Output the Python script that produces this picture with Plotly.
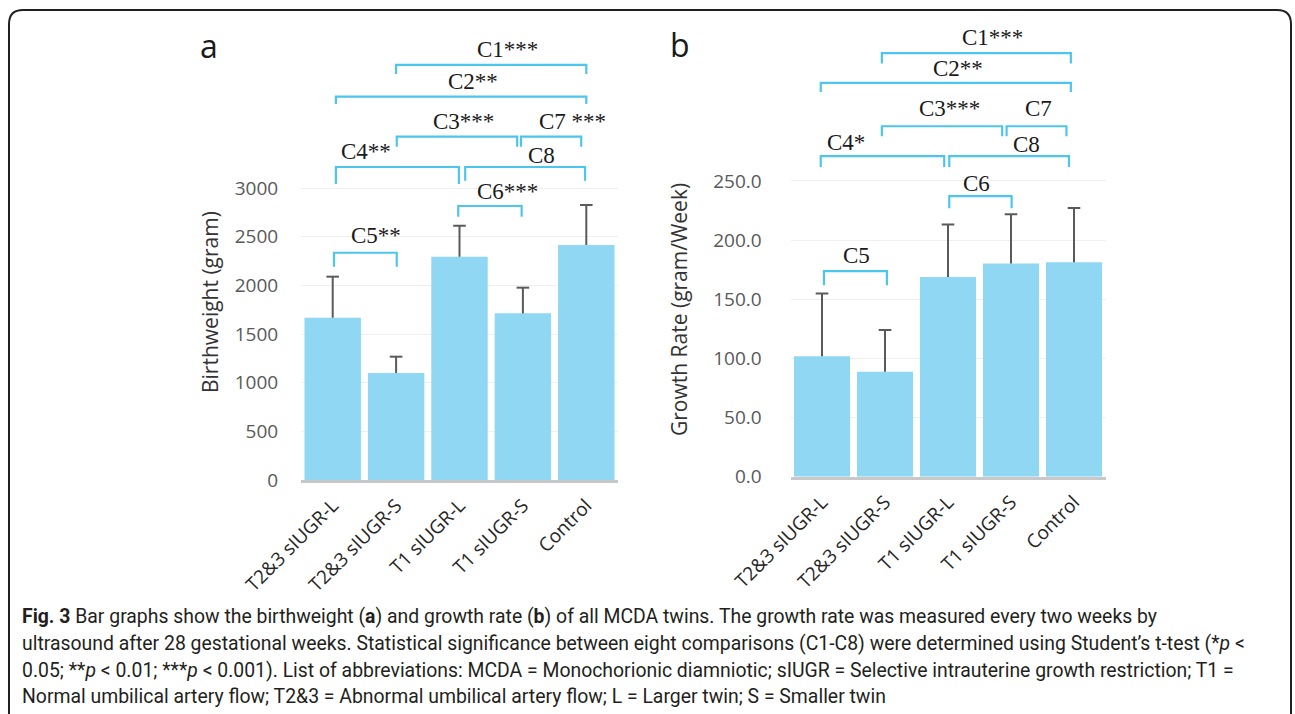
import plotly.graph_objects as go

W, H = 1295, 714

categories = ["T2&3 sIUGR-L", "T2&3 sIUGR-S", "T1 sIUGR-L", "T1 sIUGR-S", "Control"]
birthweight = [1667, 1099, 2294, 1712, 2414]
birthweight_sd = [422, 168, 319, 264, 411]
growth_rate = [101.9, 88.7, 168.9, 180.2, 181.3]
growth_rate_sd = [53.0, 35.2, 44.3, 41.7, 45.9]

bw_ticks = [0, 500, 1000, 1500, 2000, 2500, 3000]
gr_ticks = [0, 50, 100, 150, 200, 250]

# comparison labels: (label, x_left, x_right, top, leg_bottom, label_x, label_y)
comp_a = [
    ("C1***", 1.0, 4.0, 4264, 4171, 2.75, 4418),
    ("C2**", 0.05, 4.0, 3938, 3863, 2.21, 4092),
    ("C3***", 1.01, 2.91, 3527, 3424, 2.06, 3681),
    ("C7 ***", 2.97, 3.92, 3527, 3424, 3.79, 3681),
    ("C4**", 0.05, 1.99, 3216, 3041, 0.52, 3373),
    ("C8", 2.09, 3.98, 3216, 3075, 3.30, 3339),
    ("C6***", 1.98, 2.98, 2815, 2705, 2.75, 2962),
    ("C5**", 0.02, 1.01, 2335, 2191, 0.69, 2517),
]
comp_b = [
    ("C1***", 0.95, 3.95, 358.1, 349.2, 2.71, 371.6),
    ("C2**", -0.02, 3.95, 332.8, 325.2, 2.16, 344.9),
    ("C3***", 0.95, 2.86, 296.2, 287.8, 2.02, 311.1),
    ("C7", 2.93, 3.88, 296.2, 287.8, 3.43, 311.1),
    ("C4*", -0.02, 1.94, 270.9, 261.8, 0.38, 282.9),
    ("C8", 2.02, 3.92, 270.9, 261.8, 3.25, 281.0),
    ("C6", 2.02, 3.01, 237.1, 227.0, 2.45, 247.8),
    ("C5", 0.03, 1.03, 173.7, 161.8, 0.54, 187.2),
]

caption = [
    "<b>Fig. 3</b> Bar graphs show the birthweight (<b>a</b>) and growth rate (<b>b</b>) of all MCDA twins. The growth rate was measured every two weeks by",
    "ultrasound after 28 gestational weeks. Statistical significance between eight comparisons (C1-C8) were determined using Student\u2019s t-test (*<i>p</i> &lt;",
    "0.05; **<i>p</i> &lt; 0.01; ***<i>p</i> &lt; 0.001). List of abbreviations: MCDA = Monochorionic diamniotic; sIUGR = Selective intrauterine growth restriction; T1 =",
    "Normal umbilical artery flow; T2&amp;3 = Abnormal umbilical artery flow; L = Larger twin; S = Smaller twin",
]

BAR = "#8fd7f2"
BRACKET = "#4cc6ee"
ERR = "#5a5a5a"
TICKFONT = dict(family="Open Sans, sans-serif", size=19, color="#595959")
XTICKFONT = dict(family="Open Sans, sans-serif", size=19, color="#262626")
LABFONT = dict(family="Liberation Serif, serif", size=23, color="#1a1a1a")

def px(x):
    return x / W

def py(y):
    return 1 - y / H

xs = list(range(len(categories)))
ticktext = [c.replace("&", "&amp;") for c in categories]

fig = go.Figure()

def add_panel(vals, sds, xa, ya):
    fig.add_trace(go.Bar(x=xs, y=vals, marker=dict(color=BAR, line=dict(width=0)),
                         xaxis=xa, yaxis=ya, showlegend=False, hoverinfo="skip"))
    # upward-only error bars: stem + top cap
    ex, ey = [], []
    for i, v, s in zip(xs, vals, sds):
        ex += [i, i, None]
        ey += [v, v + s, None]
    fig.add_trace(go.Scatter(x=ex, y=ey, mode="lines", line=dict(color=ERR, width=2),
                             xaxis=xa, yaxis=ya, showlegend=False, hoverinfo="skip"))
    fig.add_trace(go.Scatter(x=xs, y=[v + s for v, s in zip(vals, sds)], mode="markers",
                             marker=dict(symbol="line-ew-open", size=9, color=ERR,
                                         line=dict(color=ERR, width=2)),
                             xaxis=xa, yaxis=ya, showlegend=False, hoverinfo="skip"))

add_panel(birthweight, birthweight_sd, "x", "y")
add_panel(growth_rate, growth_rate_sd, "x2", "y2")

axis_common = dict(showgrid=False, zeroline=False, showline=True, linecolor="#c8c8c8", linewidth=3,
                   tickmode="array", tickvals=xs, ticktext=ticktext, tickangle=-45,
                   ticks="outside", ticklen=4, tickcolor="rgba(0,0,0,0)", tickfont=XTICKFONT,
                   range=[-0.5, 4.5], fixedrange=True, automargin=False)

fig.update_layout(
    template="none",
    width=W, height=H, margin=dict(l=0, r=0, t=0, b=0, pad=0, autoexpand=False),
    paper_bgcolor="white", plot_bgcolor="white", bargap=0.11,
    xaxis=dict(domain=[px(301), px(618)], anchor="y", **axis_common),
    yaxis=dict(domain=[py(480), py(12.8)], range=[0, 4800], tickmode="array", tickvals=bw_ticks,
               ticktext=[str(v) for v in bw_ticks], showgrid=True, gridcolor="#efefef", gridwidth=1,
               zeroline=False, showline=False, ticks="outside", ticklen=18, tickcolor="rgba(0,0,0,0)",
               tickfont=TICKFONT, anchor="x", automargin=False, fixedrange=True),
    xaxis2=dict(domain=[px(790.5), px(1105.5)], anchor="y2", **axis_common),
    yaxis2=dict(domain=[py(476.7), py(15.3)], range=[0, 390], tickmode="array", tickvals=gr_ticks,
                ticktext=[f"{v:.1f}" for v in gr_ticks], showgrid=True, gridcolor="#efefef", gridwidth=1,
                zeroline=False, showline=False, ticks="outside", ticklen=24, tickcolor="rgba(0,0,0,0)",
                tickfont=TICKFONT, anchor="x2", automargin=False, fixedrange=True),
)

shapes = []
annotations = []
for comps, xr, yr in [(comp_a, "x", "y"), (comp_b, "x2", "y2")]:
    for lab, x0, x1, top, leg, lx, ly in comps:
        shapes.append(dict(type="path", xref=xr, yref=yr,
                           path=f"M {x0},{leg} L {x0},{top} L {x1},{top} L {x1},{leg}",
                           line=dict(color=BRACKET, width=2.2)))
        annotations.append(dict(xref=xr, yref=yr, x=lx, y=ly, text=lab, showarrow=False,
                                font=LABFONT, xanchor="center", yanchor="middle"))

# panel letters
annotations.append(dict(xref="paper", yref="paper", x=px(209), y=py(45), text="a", showarrow=False,
                        font=dict(family="Open Sans, sans-serif", size=32, color="#1a1a1a"),
                        xanchor="center", yanchor="middle"))
annotations.append(dict(xref="paper", yref="paper", x=px(680), y=py(44), text="b", showarrow=False,
                        font=dict(family="Open Sans, sans-serif", size=32, color="#1a1a1a"),
                        xanchor="center", yanchor="middle"))

# y-axis titles
annotations.append(dict(xref="paper", yref="paper", x=px(210), y=py(302), text="Birthweight (gram)",
                        textangle=-90, showarrow=False,
                        font=dict(family="Open Sans, sans-serif", size=21, color="#333333"),
                        xanchor="center", yanchor="middle"))
annotations.append(dict(xref="paper", yref="paper", x=px(679), y=py(310), text="Growth Rate (gram/Week)",
                        textangle=-90, showarrow=False,
                        font=dict(family="Open Sans, sans-serif", size=21, color="#333333"),
                        xanchor="center", yanchor="middle"))

# caption
cap_y = [616, 643, 670, 696]
for t, yy in zip(caption, cap_y):
    annotations.append(dict(xref="paper", yref="paper", x=px(20), y=py(yy), text=t, showarrow=False,
                            font=dict(family="Roboto, sans-serif", size=19.4, color="#231f20"),
                            xanchor="left", yanchor="middle"))

# rounded border (open at bottom)
x0b, x1b, ytb = px(9), px(1291), py(10)
rx, ry = 14 / W, 14 / H
bot = -0.05
shapes.append(dict(type="path", xref="paper", yref="paper",
                   path=(f"M {x0b},{bot} L {x0b},{ytb - ry} Q {x0b},{ytb} {x0b + rx},{ytb} "
                         f"L {x1b - rx},{ytb} Q {x1b},{ytb} {x1b},{ytb - ry} L {x1b},{bot}"),
                   line=dict(color="#231f20", width=2)))

fig.update_layout(shapes=shapes, annotations=annotations)
fig.write_html("out.html")
